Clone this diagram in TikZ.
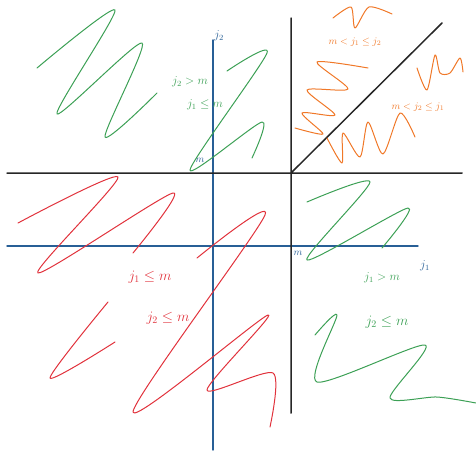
\documentclass[tikz,border=0pt]{standalone}
\definecolor{axblue}{RGB}{40,95,150}
\definecolor{pgreen}{RGB}{60,160,85}
\definecolor{pred}{RGB}{225,50,60}
\definecolor{porange}{RGB}{240,120,40}
\begin{document}
\begin{tikzpicture}[x=1pt, y=-1pt, line join=round, line cap=round, font=\large]
\useasboundingbox (0,0) rectangle (476,450);
\tikzset{scrib/.style={line width=1pt, smooth, tension=.45}}
% axes
\draw[axblue,line width=1.4pt]	(7,246)--(418,246)	(213,40)--(213,450);
\node[axblue] (jone) at (425,266) {$j_1$};
\node[axblue] (jtwo) at (219,36) {$j_2$};
\node[axblue,font=\normalsize] (mtop) at (200,160) {$m$};
\node[axblue,font=\normalsize] (mright) at (298,253) {$m$};
% region borders
\draw[black!85,line width=1.5pt]	(7,173)--(462,173)	(291,18)--(291,413)	(291,173)--(442,23);
% green, upper left
\draw[pgreen,scrib] plot coordinates {(37,68) (115,10) (57,114) (142,43) (105,137) (157,93)};
\draw[pgreen,scrib] plot coordinates {(227,71) (267,53) (190,170) (262,122) (252,158)};
\node[pgreen] (ltwo) at (190,82) {$j_2>m$};
\node[pgreen] (lone) at (205,105) {$j_1\le m$};
% orange, upper right
\draw[porange,scrib] plot coordinates {(295,128) (323,134) (302,113) (335,115) (307,90) (348,89) (317,62) (368,68)};
\draw[porange,scrib] plot coordinates {(333,18) (351,7) (355,28) (369,7) (392,14)};
\draw[porange,scrib] plot coordinates {(327,138) (342,163) (343,133) (360,157) (368,122) (383,154) (400,113) (415,137)};
\draw[porange,scrib] plot coordinates {(417,68) (427,90) (435,55) (440,73) (450,73) (460,58) (463,72)};
\node[porange,font=\normalsize] (oup) at (355,42) {$m<j_1\le j_2$};
\node[porange,font=\normalsize] (olow) at (418,107) {$m<j_2\le j_1$};
% red, lower left
\draw[pred,scrib] plot coordinates {(18,223) (118,177) (38,273) (173,193) (133,253)};
\draw[pred,scrib] plot coordinates {(197,258) (265,215) (133,412) (268,315) (207,390) (273,373) (270,427)};
\draw[pred,scrib] plot coordinates {(108,302) (50,378) (115,342)};
\node[pred,font=\Large] (rone) at (150,277) {$j_1\le m$};
\node[pred,font=\Large] (rtwo) at (168,318) {$j_2\le m$};
% green, lower right
\draw[pgreen,scrib] plot coordinates {(307,202) (370,182) (307,260) (408,208) (382,248)};
\draw[pgreen,scrib] plot coordinates {(315,335) (337,315) (317,382) (425,345) (390,398) (437,397) (476,403)};
\node[pgreen] (gone) at (382,278) {$j_1>m$};
\node[pgreen,font=\Large] (gtwo) at (387,322) {$j_2\le m$};
\end{tikzpicture}
\end{document}
